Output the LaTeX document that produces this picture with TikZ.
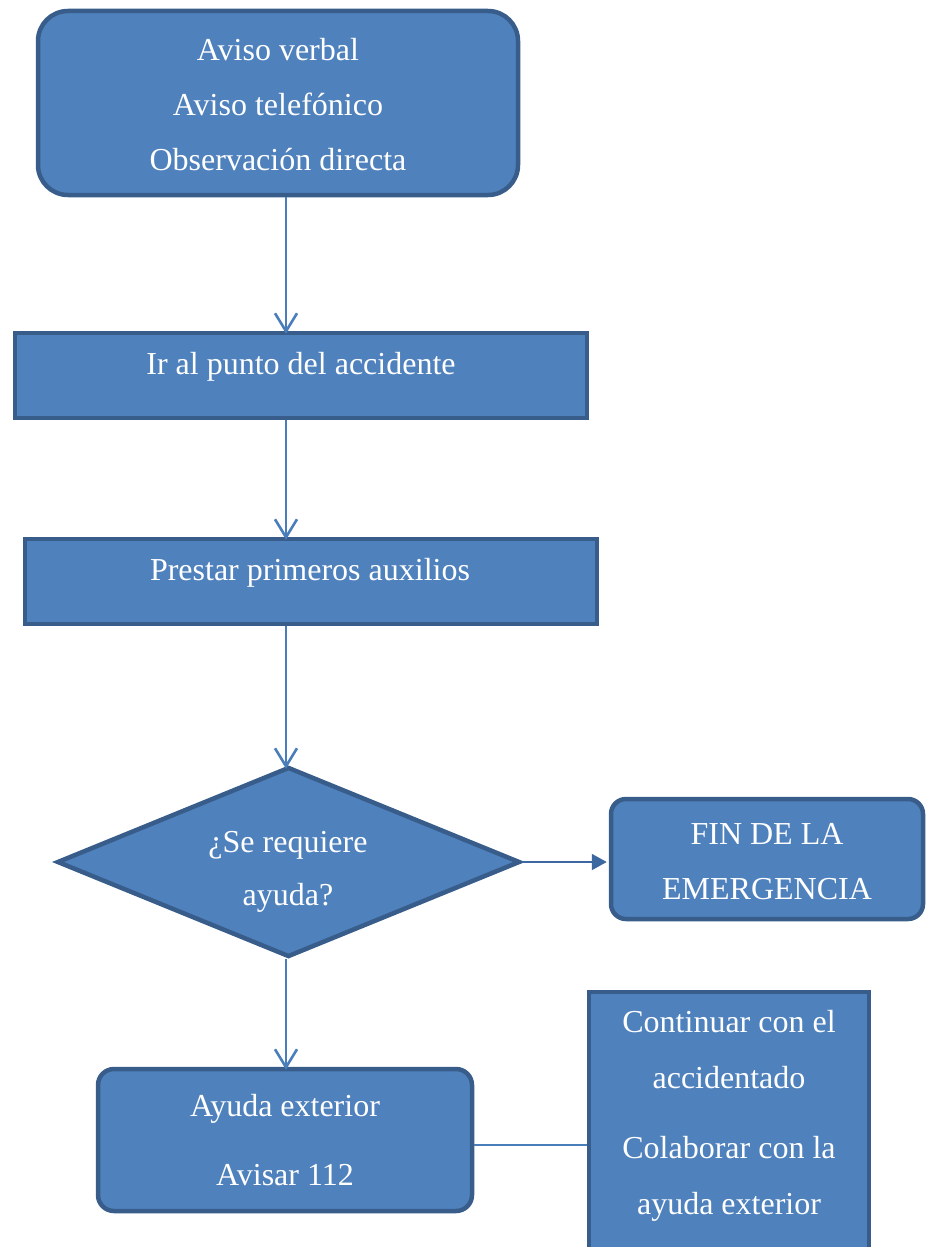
\documentclass[tikz,border=0pt]{standalone}
\usepackage{fontspec}
\setmainfont{Liberation Serif}
\usetikzlibrary{shapes.geometric,arrows.meta}
\definecolor{boxfill}{HTML}{4F81BD}
\definecolor{boxline}{HTML}{385D8A}
\definecolor{conn}{HTML}{4A7EBB}
\definecolor{connd}{HTML}{3C67A0}
\tikzset{
  shp/.style={draw=boxline,fill=boxfill,line width=4.5pt,inner sep=0pt},
  rbox/.style={shp,rectangle},
  rrbox/.style={shp,rectangle,rounded corners=#1},
  dbox/.style={shp,diamond},
  txt/.style={anchor=base,text=white,inner sep=0pt,font=\fontsize{32}{38}\selectfont},
  arr/.style={draw=conn,line width=2pt,-{Straight Barb[length=18pt,width=22pt,line width=2.6pt]}},
  arrf/.style={draw=connd,line width=2pt,-{Triangle[length=15pt,width=16pt]}},
  lnk/.style={draw=conn,line width=2pt}
}
\begin{document}
\begin{tikzpicture}[x=1pt,y=-1pt]
\useasboundingbox (0,0) rectangle (936,1247);
\clip (0,0) rectangle (936,1247);
% boxes
\node[rrbox=30pt,minimum width=480pt,minimum height=184pt] (b1) at (278,103) {};
\node[rbox,minimum width=572pt,minimum height=85pt] (b2) at (301,375.5) {};
\node[rbox,minimum width=572pt,minimum height=85pt] (b3) at (311,581.5) {};
\node[dbox,minimum width=463pt,minimum height=190pt] (d) at (288.5,862) {};
\node[rrbox=15pt,minimum width=312pt,minimum height=120pt] (fin) at (767,859) {};
\node[rrbox=16pt,minimum width=374pt,minimum height=142pt] (ay) at (285,1140) {};
\node[rbox,minimum width=280pt,minimum height=280pt] (co) at (729,1132) {};
% texts
\node[txt] (t1) at (278,60) {Aviso verbal};
\node[txt] (t2) at (278,115) {Aviso telefónico};
\node[txt] (t3) at (278,170) {Observación directa};
\node[txt] (t4) at (301,374) {Ir al punto del accidente};
\node[txt] (t5) at (310,580) {Prestar primeros auxilios};
\node[txt] (t6) at (288,852) {¿Se requiere};
\node[txt] (t7) at (288,905) {ayuda?};
\node[txt] (t8) at (767,844) {FIN DE LA};
\node[txt] (t9) at (767,899) {EMERGENCIA};
\node[txt] (t10) at (285,1116) {Ayuda exterior};
\node[txt] (t11) at (285,1185) {Avisar 112};
\node[txt] (t12) at (729,1032) {Continuar con el};
\node[txt] (t13) at (729,1088) {accidentado};
\node[txt] (t14) at (729,1158) {Colaborar con la};
\node[txt] (t15) at (729,1214) {ayuda exterior};
% connectors
\coordinate (ax) at (286,0);
\coordinate (hy) at (0,1145);
\draw[arr] (b1.south -| ax) -- ([yshift=-3pt]b2.north -| ax);
\draw[arr] (b2.south -| ax) -- ([yshift=-3pt]b3.north -| ax);
\draw[arr] (b3.south -| ax) -- ([yshift=-4pt]d.north -| ax);
\draw[arrf] (d.east) -- ([xshift=-2pt]d.east -| fin.west);
\draw[arr] (d.south -| ax) -- ([yshift=-3pt]ay.north -| ax);
\draw[lnk] (ay.east |- hy) -- (co.west |- hy);
\end{tikzpicture}
\end{document}
